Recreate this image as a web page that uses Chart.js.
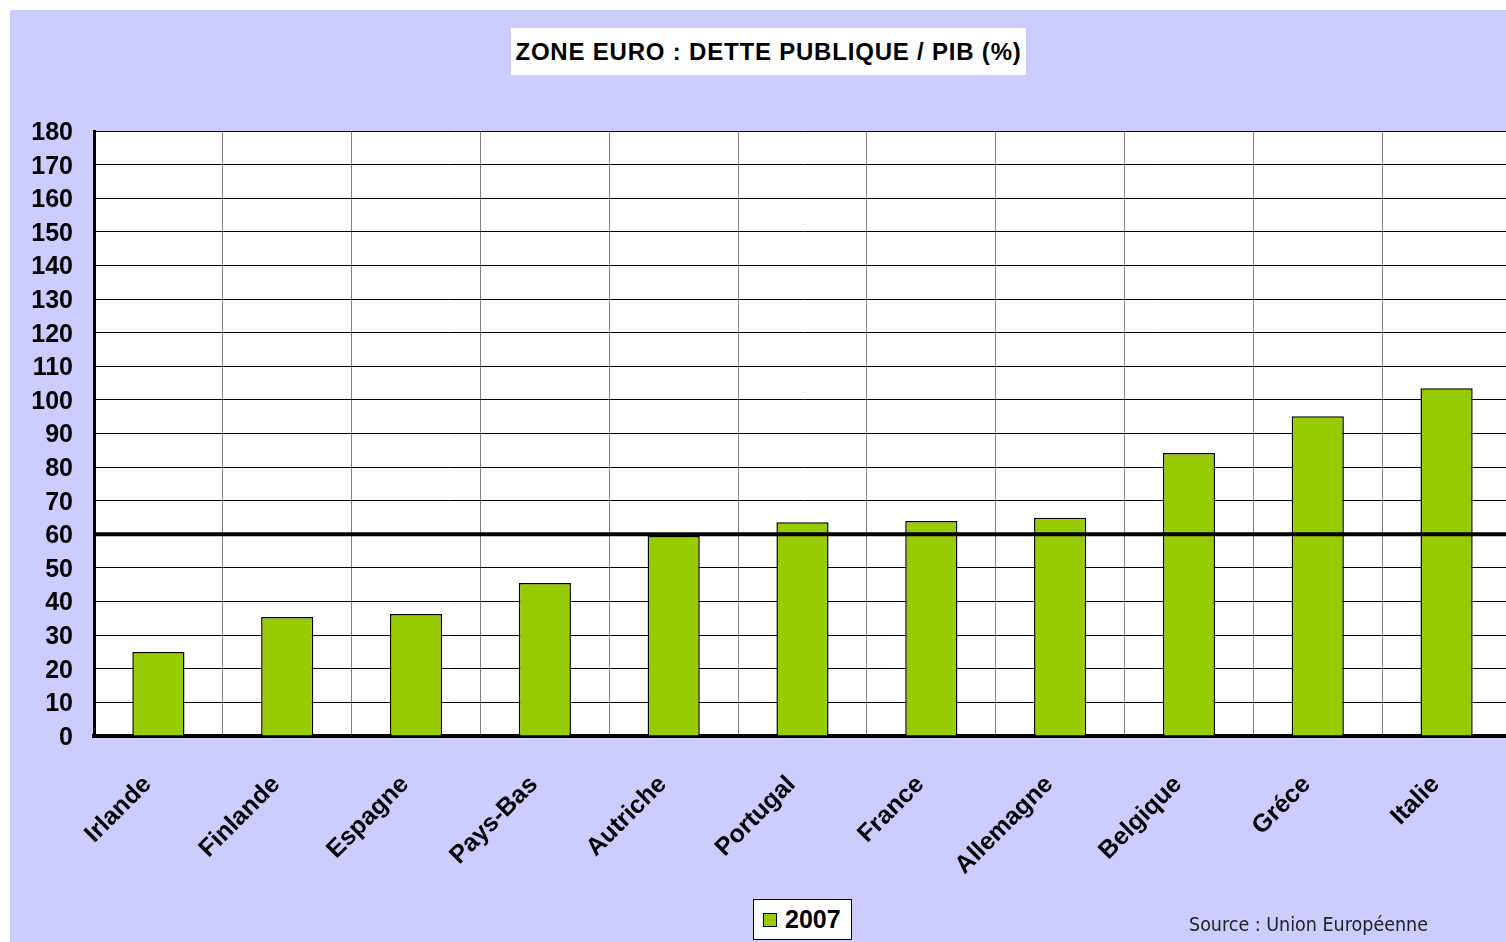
<!DOCTYPE html>
<html>
<head>
<meta charset="utf-8">
<script src="https://cdn.jsdelivr.net/npm/chart.js@4"></script>
<style>
  html, body { margin: 0; padding: 0; background: #ffffff; overflow: hidden; }
  #frame {
    position: absolute; left: 10px; top: 10px; width: 1510px; height: 932px;
    background: #ccccff;
  }
  #chart-box { position: absolute; left: 0; top: 0; width: 1501px; height: 932px; }
  #title {
    position: absolute; left: 501px; top: 18px; width: 515px; height: 47px;
    background: #ffffff; font: bold 24px "Liberation Sans", Arial, sans-serif;
    letter-spacing: 0.8px; line-height: 47px; text-align: center; color: #000;
  }
  #legend {
    position: absolute; left: 743px; top: 889px; width: 97px; height: 39px;
    background: #ffffff; border: 1px solid #000; font: bold 25px "Liberation Sans", Arial, sans-serif;
    line-height: 39px; color: #000;
  }
  #legend span.swatch {
    position: absolute; left: 9px; top: 13px; width: 12px; height: 12px;
    background: #99cc00; border: 1px solid #000;
  }
  #legend span.text { position: absolute; left: 31px; top: 0; }
  #source {
    position: absolute; left: 1179px; top: 903px;
    font: 19.5px "Liberation Sans Narrow", "DejaVu Sans Condensed", sans-serif; color: #222;
  }
</style>
</head>
<body>
<div id="frame">
  <div id="chart-box"><canvas id="debt-chart"></canvas></div>
  <div id="title"></div>
  <div id="legend"><span class="swatch"></span><span class="text"></span></div>
  <div id="source"></div>
</div>
<script>
  // Chart data
  const countries = ['Irlande', 'Finlande', 'Espagne', 'Pays-Bas', 'Autriche', 'Portugal',
    'France', 'Allemagne', 'Belgique', 'Gréce', 'Italie'];
  const debt2007 = [25.0, 35.4, 36.3, 45.5, 59.5, 63.6, 64.0, 64.9, 84.2, 95.1, 103.5];
  const seriesLabel = '2007';
  const yMin = 0;
  const yMax = 180;
  const yStep = 10;
  const maastrichtLimit = 60;
  const titleText = 'ZONE EURO : DETTE PUBLIQUE / PIB (%)';
  const sourceText = 'Source : Union Européenne';

  document.getElementById('title').textContent = titleText;
  document.querySelector('#legend .text').textContent = seriesLabel;
  document.getElementById('source').textContent = sourceText;

  // White plot background
  const plotBackground = {
    id: 'plotBackground',
    beforeDraw(chart) {
      const { ctx, chartArea } = chart;
      ctx.save();
      ctx.fillStyle = '#ffffff';
      ctx.fillRect(chartArea.left, chartArea.top, chartArea.right - chartArea.left, chartArea.bottom - chartArea.top);
      ctx.restore();
    }
  };

  // Thick 60% line drawn above the bars
  const limitLine = {
    id: 'limitLine',
    afterDatasetsDraw(chart) {
      const { ctx, chartArea } = chart;
      const y = chart.scales.y.getPixelForValue(maastrichtLimit);
      ctx.save();
      ctx.strokeStyle = '#000000';
      ctx.lineWidth = 4;
      ctx.beginPath();
      ctx.moveTo(chartArea.left, y);
      ctx.lineTo(chartArea.right, y);
      ctx.stroke();
      ctx.restore();
    }
  };

  const tickFont = { family: '"Liberation Sans", Arial, sans-serif', size: 25, weight: 'bold' };

  new Chart(document.getElementById('debt-chart'), {
    type: 'bar',
    data: {
      labels: countries,
      datasets: [{
        label: seriesLabel,
        data: debt2007,
        backgroundColor: '#99cc00',
        borderColor: '#000000',
        borderWidth: 1.5,
        barPercentage: 0.405,
        categoryPercentage: 1
      }]
    },
    options: {
      responsive: true,
      maintainAspectRatio: false,
      animation: false,
      layout: { padding: { top: 121, right: 0, left: 0, bottom: 0 } },
      plugins: {
        legend: { display: false },
        title: { display: false },
        tooltip: { enabled: false }
      },
      scales: {
        x: {
          grid: { color: '#808080', lineWidth: 1, drawTicks: false },
          border: { color: '#000000', width: 4 },
          ticks: {
            color: '#000000',
            font: tickFont,
            minRotation: 45,
            maxRotation: 45,
            padding: 34,
            labelOffset: -11
          },
          afterFit(scale) { scale.height = 206; }
        },
        y: {
          min: yMin,
          max: yMax,
          grid: { color: '#000000', lineWidth: 1, drawTicks: false },
          border: { color: '#000000', width: 3 },
          ticks: {
            stepSize: yStep,
            color: '#000000',
            font: tickFont,
            padding: 21,
            labelOffset: 2
          },
          afterFit(scale) { scale.width = 84; }
        }
      }
    },
    plugins: [plotBackground, limitLine]
  });
</script>
</body>
</html>
